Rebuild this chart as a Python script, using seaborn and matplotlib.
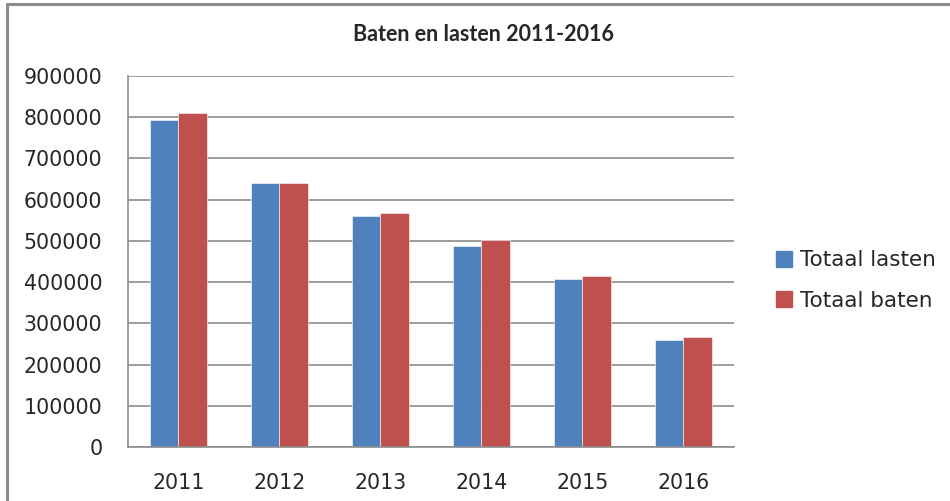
import matplotlib
matplotlib.use("Agg")
import matplotlib.pyplot as plt
import seaborn as sns
import pandas as pd
from matplotlib.lines import Line2D

# data
years = ["2011", "2012", "2013", "2014", "2015", "2016"]
totaal_lasten = [793000, 640000, 560000, 488000, 407000, 260000]
totaal_baten = [810000, 640000, 568000, 501000, 416000, 268000]
series_names = ["Totaal lasten", "Totaal baten"]
colors = ["#4F81BD", "#C0504D"]
y_ticks = [0, 100000, 200000, 300000, 400000, 500000, 600000, 700000, 800000, 900000]

df = pd.DataFrame({
    "jaar": years * 2,
    "waarde": totaal_lasten + totaal_baten,
    "reeks": [series_names[0]] * len(years) + [series_names[1]] * len(years),
})

sns.set_style("white")
plt.rcParams["font.family"] = ["DejaVu Sans"]

fig = plt.figure(figsize=(9.5, 5.01), dpi=100)
ax = fig.add_axes([0.1347, 0.1078, 0.6379, 0.7405])

sns.barplot(data=df, x="jaar", y="waarde", hue="reeks", palette=colors,
            width=0.56, ax=ax, edgecolor="white", linewidth=0.4, saturation=1)

ax.set_ylim(0, 900000)
ax.set_xlim(-0.5, 5.5)
ax.set_yticks(y_ticks)
ax.set_yticklabels([str(v) for v in y_ticks], fontsize=14.8)
ax.tick_params(axis="x", labelsize=14.8, length=0, pad=19)
ax.tick_params(axis="y", length=0, pad=18.5)
ax.yaxis.grid(True, color="#8c8c8c", linewidth=1.2)
ax.set_axisbelow(True)
ax.set_xlabel("")
ax.set_ylabel("")
for s in ["top", "right"]:
    ax.spines[s].set_visible(False)
for s in ["left", "bottom"]:
    ax.spines[s].set_color("#8c8c8c")
    ax.spines[s].set_linewidth(1.2)

ax.get_legend().remove()
handles = [Line2D([0], [0], marker="s", linestyle="", markersize=11,
                  markerfacecolor=c, markeredgecolor=c) for c in colors]
fig.legend(handles, series_names, loc="center left", bbox_to_anchor=(0.795, 0.44),
           frameon=False, fontsize=15.5, handletextpad=0.3, labelspacing=0.95,
           handlelength=0.9)

fig.text(0.509, 0.932, "Baten en lasten 2011-2016", ha="center", va="center",
         fontsize=15.5, fontweight="bold", family=["Lato", "DejaVu Sans"])

# outer chart border (left and top only visible)
fig.add_artist(Line2D([0.0074, 0.0074], [0, 0.992], transform=fig.transFigure,
                      color="#8c8c8c", linewidth=2.2))
fig.add_artist(Line2D([0.0074, 1.0], [0.992, 0.992], transform=fig.transFigure,
                      color="#8c8c8c", linewidth=2.2))

fig.savefig("out.png", dpi=100)
